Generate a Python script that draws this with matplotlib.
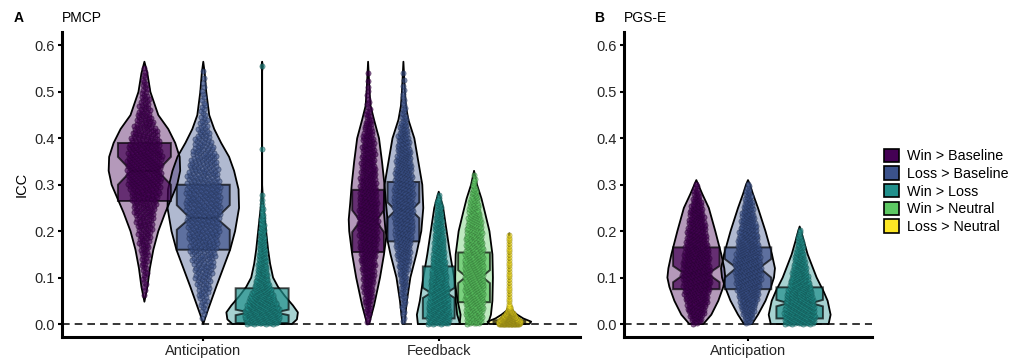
import numpy as np
import matplotlib
matplotlib.use("Agg")
import matplotlib.pyplot as plt
from matplotlib.patches import Patch

plt.rcParams['font.family'] = ['Liberation Sans', 'DejaVu Sans']

contrasts = ['Win > Baseline', 'Loss > Baseline', 'Win > Loss', 'Win > Neutral', 'Loss > Neutral']
contrast_colors = ['#440154', '#3B528B', '#21908C', '#5DC863', '#FDE725']
y_ticks = [0.0, 0.1, 0.2, 0.3, 0.4, 0.5, 0.6]

# violin outlines: ICC levels and the density read at each level
# PMCP, anticipation
pa_wb_icc = [0.048, 0.08, 0.12, 0.16, 0.20, 0.24, 0.27, 0.30, 0.33, 0.36, 0.39, 0.42, 0.45, 0.50, 0.54, 0.565]
pa_wb_dens = [0, 3, 5.5, 9, 14, 21, 27, 33, 36, 35.5, 31, 24, 14, 6, 3, 0]
pa_lb_icc = [0.0, 0.02, 0.05, 0.08, 0.12, 0.16, 0.20, 0.25, 0.29, 0.33, 0.36, 0.39, 0.42, 0.45, 0.50, 0.54, 0.565]
pa_lb_dens = [0, 3, 8, 13, 20, 27, 32, 36, 35.5, 31, 26, 18, 11, 6, 3, 1.5, 0]
pa_wl_icc = [0.0, 0.01, 0.025, 0.04, 0.06, 0.08, 0.10, 0.13, 0.16, 0.20, 0.23, 0.26, 0.30, 0.545, 0.555, 0.565]
pa_wl_dens = [30, 35, 36, 31, 23, 16, 11, 8, 6, 4, 2.5, 1, 0.02, 0.02, 0.8, 0]

# PMCP, feedback
pf_wb_icc = [0.0, 0.04, 0.10, 0.15, 0.20, 0.225, 0.26, 0.30, 0.35, 0.40, 0.44, 0.47, 0.50, 0.565]
pf_wb_dens = [1, 6, 12, 16, 19, 19.5, 18, 16.5, 14, 11, 6, 2.5, 1.5, 0]
pf_lb_icc = [0.0, 0.05, 0.10, 0.15, 0.20, 0.25, 0.30, 0.35, 0.40, 0.44, 0.47, 0.50, 0.565]
pf_lb_dens = [1, 3.5, 7, 13, 18, 20, 19, 15, 11, 5, 2.5, 1.5, 0]
pf_wl_icc = [0.0, 0.02, 0.05, 0.10, 0.15, 0.20, 0.25, 0.27, 0.285]
pf_wl_dens = [21, 22, 19, 15.5, 11.5, 8, 4.5, 2, 0]
pf_wn_icc = [0.0, 0.02, 0.05, 0.10, 0.15, 0.20, 0.24, 0.27, 0.30, 0.31, 0.33]
pf_wn_dens = [14, 17, 18.5, 19, 18.5, 15.5, 11, 7.5, 3, 2, 0]
pf_ln_icc = [0.0, 0.005, 0.012, 0.02, 0.03, 0.04, 0.195]
pf_ln_dens = [20, 22, 14, 8, 2, 0.15, 0.15]

# PGS-E, anticipation
ga_wb_icc = [0.0, 0.02, 0.05, 0.08, 0.10, 0.12, 0.15, 0.20, 0.25, 0.28, 0.30, 0.31]
ga_wb_dens = [7, 15, 22, 27, 29, 28, 25, 19, 12.5, 6, 2, 0]
ga_lb_icc = [0.0, 0.02, 0.05, 0.08, 0.10, 0.12, 0.15, 0.20, 0.25, 0.28, 0.30, 0.31]
ga_lb_dens = [4, 10, 17.5, 23, 26, 27, 24, 17.5, 10, 5, 2, 0]
ga_wl_icc = [0.0, 0.02, 0.05, 0.07, 0.10, 0.15, 0.18, 0.20, 0.21]
ga_wl_dens = [29, 31, 28, 24, 17, 8, 4, 1.5, 0]

# notched boxes: q1, median, q3, notch low, notch high
pa_q1 = [0.265, 0.160, 0.002]
pa_med = [0.330, 0.228, 0.025]
pa_q3 = [0.390, 0.300, 0.077]
pa_ci_lo = [0.300, 0.203, 0.019]
pa_ci_hi = [0.360, 0.256, 0.031]

pf_q1 = [0.155, 0.178, 0.012, 0.047, 0.000]
pf_med = [0.222, 0.245, 0.067, 0.102, 0.002]
pf_q3 = [0.289, 0.306, 0.124, 0.154, 0.008]
pf_ci_lo = [0.198, 0.228, 0.056, 0.088, 0.000]
pf_ci_hi = [0.245, 0.262, 0.078, 0.116, 0.004]

ga_q1 = [0.075, 0.075, 0.012]
ga_med = [0.108, 0.121, 0.045]
ga_q3 = [0.165, 0.165, 0.079]
ga_ci_lo = [0.090, 0.100, 0.038]
ga_ci_hi = [0.125, 0.140, 0.052]

# (panel, x position of phase, contrast indexes, outlines, box stats)
layout = [
    (0, 1, [0, 1, 2], [(pa_wb_icc, pa_wb_dens), (pa_lb_icc, pa_lb_dens), (pa_wl_icc, pa_wl_dens)],
     (pa_q1, pa_med, pa_q3, pa_ci_lo, pa_ci_hi)),
    (0, 2, [0, 1, 2, 3, 4], [(pf_wb_icc, pf_wb_dens), (pf_lb_icc, pf_lb_dens), (pf_wl_icc, pf_wl_dens),
                             (pf_wn_icc, pf_wn_dens), (pf_ln_icc, pf_ln_dens)],
     (pf_q1, pf_med, pf_q3, pf_ci_lo, pf_ci_hi)),
    (1, 1, [0, 1, 2], [(ga_wb_icc, ga_wb_dens), (ga_lb_icc, ga_lb_dens), (ga_wl_icc, ga_wl_dens)],
     (ga_q1, ga_med, ga_q3, ga_ci_lo, ga_ci_hi)),
]

dodge_width = 0.75
n_points = 450
point_spread = 0.5
dens_to_width = [1 / 237, 1 / 207]
text_color = '#262626'


def sina_points(icc, dens, n):
    fine = np.linspace(icc[0], icc[-1], 800)
    d = np.interp(fine, icc, dens)
    cdf = np.concatenate([[0], np.cumsum((d[1:] + d[:-1]) / 2 * np.diff(fine))])
    cdf /= cdf[-1]
    y = np.interp((np.arange(n) + 0.5) / n, cdf, fine)
    frac = (np.arange(n) * 0.6180339887) % 1.0
    return y, (frac * 2 - 1) * np.interp(y, icc, dens)


def darker(color, k=0.45):
    rgb = np.array(matplotlib.colors.to_rgb(color))
    return tuple(rgb * (1 - k))


fig = plt.figure(figsize=(10.2, 3.64), dpi=100)
ax_a = fig.add_axes([62 / 1020, 27 / 364, 518 / 1020, 305 / 364])
ax_b = fig.add_axes([624 / 1020, 27 / 364, 248 / 1020, 305 / 364])
axes = [ax_a, ax_b]

for panel, phase_x, idx, outlines, boxes in layout:
    ax = axes[panel]
    scale = dens_to_width[panel]
    slot = dodge_width / len(idx)
    positions = [phase_x - dodge_width / 2 + slot * (k + 0.5) for k in range(len(idx))]
    stats = []
    for k, ci in enumerate(idx):
        pos = positions[k]
        icc, dens = outlines[k]
        icc = np.array(icc)
        half = np.array(dens) * scale
        color = contrast_colors[ci]
        ax.fill_betweenx(icc, pos - half, pos + half, facecolor=color, alpha=0.4, lw=0, zorder=2)
        ax.fill_betweenx(icc, pos - half, pos + half, facecolor='none', edgecolor='black', lw=1.3, zorder=2.1)
        q1, med, q3, lo, hi = (b[k] for b in boxes)
        stats.append(dict(q1=q1, med=med, q3=q3, cilo=lo, cihi=hi, whislo=q1, whishi=q3, fliers=[]))

        py, off = sina_points(icc, dens, n_points)
        ax.scatter(pos + off * scale * point_spread, py, s=14, facecolor=color, edgecolor=darker(color),
                   linewidths=0.5, alpha=0.6, zorder=4)

    bp = ax.bxp(stats, positions=positions, widths=slot * 0.9, shownotches=True, patch_artist=True,
                showfliers=False, showcaps=False, manage_ticks=False,
                boxprops=dict(edgecolor='black', linewidth=1.4),
                whiskerprops=dict(linewidth=0),
                medianprops=dict(color='black', linewidth=1.6))
    for patch, ci in zip(bp['boxes'], idx):
        patch.set_facecolor(contrast_colors[ci])
        patch.set_alpha(0.7)
        patch.set_edgecolor('black')
        patch.set_zorder(3)
    for line in bp['medians']:
        line.set_zorder(3.1)

for ax, xt in zip(axes, [['Anticipation', 'Feedback'], ['Anticipation']]):
    ax.axhline(0, color='black', lw=1.1, ls=(0, (5, 3.3)), zorder=1)
    ax.set_ylim(-0.028, 0.629)
    ax.set_xticks(range(1, len(xt) + 1))
    ax.set_xticklabels(xt, fontsize=10.5, color=text_color)
    ax.set_yticks(y_ticks)
    ax.set_yticklabels([f'{v:.1f}' for v in y_ticks], fontsize=10.5, color=text_color)
    for side in ['top', 'right']:
        ax.spines[side].set_visible(False)
    for side in ['left', 'bottom']:
        ax.spines[side].set_linewidth(2.2)
    ax.tick_params(width=1.5, length=3, pad=2)
ax_a.set_xlim(0.4, 2.6)
ax_b.set_xlim(0.4, 1.6)
ax_a.set_ylabel('ICC', fontsize=10.5, labelpad=4)

fig.text(14 / 1020, 1 - 18 / 364, 'A', fontsize=10, fontweight='bold', va='center')
fig.text(62 / 1020, 1 - 18 / 364, 'PMCP', fontsize=10, va='center')
fig.text(594 / 1020, 1 - 18 / 364, 'B', fontsize=10, fontweight='bold', va='center')
fig.text(624 / 1020, 1 - 18 / 364, 'PGS-E', fontsize=10, va='center')

handles = [Patch(facecolor=c, edgecolor='black', linewidth=1.2) for c in contrast_colors]
fig.legend(handles, contrasts, loc='upper left', bbox_to_anchor=(878 / 1020, 1 - 143 / 364), frameon=False,
           fontsize=10.3, handlelength=1.05, handleheight=1.05, handletextpad=0.55, labelspacing=0.22,
           borderaxespad=0)

fig.savefig('out.png', dpi=100)
